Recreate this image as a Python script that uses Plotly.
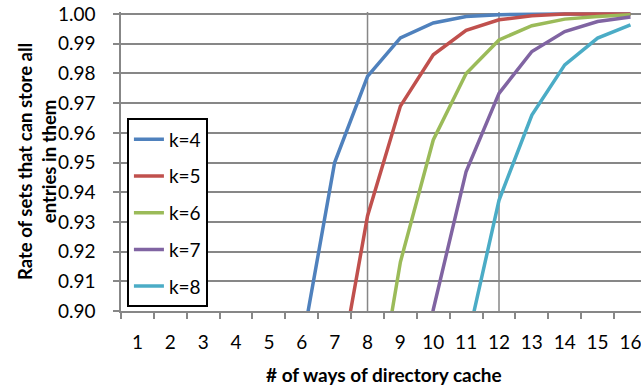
import plotly.graph_objects as go

ways = list(range(1, 17))
tick_labels = [str(w) for w in ways]
series_names = ["k=4", "k=5", "k=6", "k=7", "k=8"]
k4 = [None, None, None, None, None, 0.888, 0.950, 0.979, 0.992, 0.997, 0.9992, 0.9998, 1.000, 1.000, 1.000, 1.000]
k5 = [None, None, None, None, None, None, 0.870, 0.932, 0.969, 0.9863, 0.9945, 0.9981, 0.9994, 1.000, 1.000, 1.000]
k6 = [None, None, None, None, None, None, None, 0.851, 0.9165, 0.9576, 0.980, 0.9913, 0.9961, 0.9983, 0.9992, 0.9998]
k7 = [None, None, None, None, None, None, None, None, 0.83, 0.9005, 0.947, 0.9733, 0.9874, 0.9941, 0.9975, 0.999]
k8 = [None, None, None, None, None, None, None, None, None, None, 0.888, 0.9373, 0.966, 0.9829, 0.9919, 0.9964]
colors = ["#4F81BD", "#C0504D", "#9BBB59", "#8064A2", "#4BACC6"]
marked_ways = [8, 12]
x_title = "# of ways of directory cache"
y_title = "Rate of sets that can store all<br>entries in them"

FONT = "Lato"
GRID = "#878787"

fig = go.Figure()
for i, (name, vals) in enumerate(zip(series_names, [k4, k5, k6, k7, k8])):
    fig.add_trace(go.Scatter(
        x=ways, y=vals, name=name, mode="lines",
        line=dict(color=colors[i], width=3.5),
        legendgroup=name,
    ))

for w in marked_ways:
    fig.add_shape(type="line", xref="x", yref="paper", x0=w, x1=w, y0=0, y1=1,
                  line=dict(color=GRID, width=1.5), layer="below")

fig.add_annotation(text="<b>" + x_title + "</b>", xref="paper", yref="paper",
                   x=0.5058, y=-0.2124, xanchor="center", yanchor="middle",
                   showarrow=False, font=dict(family=FONT, size=19, color="#000000"))
fig.add_annotation(text="<b>" + y_title + "</b>", xref="paper", yref="paper",
                   x=-0.1625, y=0.5, xanchor="center", yanchor="middle", textangle=-90,
                   showarrow=False, font=dict(family=FONT, size=18.5, color="#000000"))

fig.update_layout(
    width=641, height=385,
    margin=dict(l=121, r=0, t=12, b=74),
    paper_bgcolor="white", plot_bgcolor="white",
    font=dict(family=FONT, size=19, color="#000000"),
    showlegend=True,
    legend=dict(
        x=0.0114, y=0.644, xanchor="left", yanchor="top",
        bgcolor="white", bordercolor="#000000", borderwidth=2,
        font=dict(family=FONT, size=19, color="#000000"),
        tracegroupgap=9, traceorder="grouped",
    ),
    xaxis=dict(
        range=[0.5, 16.32],
        tickmode="array", tickvals=ways, ticktext=tick_labels,
        ticks="", showgrid=False,
        showline=True, linecolor=GRID, linewidth=1.5,
        minor=dict(tickmode="linear", tick0=0.5, dtick=1, ticks="outside", ticklen=6,
                   tickcolor=GRID, tickwidth=1.5, showgrid=False),
        ticklabelstandoff=13, ticklabeloverflow="allow",
        tickfont=dict(family=FONT, size=19),
        zeroline=False,
    ),
    yaxis=dict(
        range=[0.90, 1.0007],
        tickmode="linear", tick0=0.90, dtick=0.01, tickformat=".2f",
        ticks="outside", ticklen=6, tickcolor=GRID, tickwidth=1.5,
        showgrid=True, gridcolor=GRID, gridwidth=1.5,
        showline=True, linecolor=GRID, linewidth=1.5,
        ticklabelstandoff=14,
        tickfont=dict(family=FONT, size=19),
        zeroline=False,
    ),
)

fig.write_html("out.html")
